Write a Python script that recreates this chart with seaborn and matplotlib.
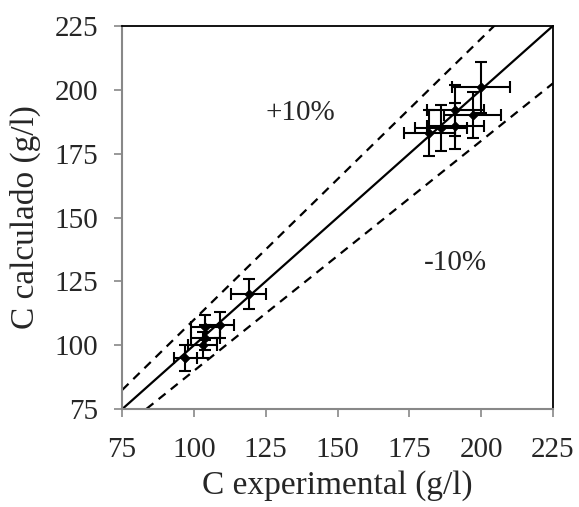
import matplotlib
matplotlib.use("Agg")
import matplotlib.pyplot as plt
import numpy as np
import pandas as pd
import seaborn as sns

# values
c_exp = [97, 103, 104, 104, 109, 119, 182, 186, 191, 191, 197, 200]
c_calc = [95, 100, 103, 107, 108, 120, 183, 185, 186, 192, 190, 201]
err_exp = [4, 5, 5, 5, 5, 6, 9, 9, 10, 10, 10, 10]
err_calc = [5, 5, 5, 5, 5, 6, 9, 9, 9, 10, 9, 10]
ticks = [75, 100, 125, 150, 175, 200, 225]

df = pd.DataFrame({'C experimental': c_exp, 'C calculado': c_calc,
                   'xerr': err_exp, 'yerr': err_calc})

sns.set_style('white')
plt.rcParams['font.family'] = ['Liberation Serif', 'DejaVu Serif']

fig, ax = plt.subplots(figsize=(5.79, 5.07), dpi=100)
fig.subplots_adjust(left=0.211, right=0.955, top=0.949, bottom=0.193)

line = np.array([75, 225])
ax.plot(line, line, color='black', lw=1.6)
ax.plot(line, 1.1 * line, color='black', lw=1.6, ls=(0, (4, 3)))
ax.plot(line, 0.9 * line, color='black', lw=1.6, ls=(0, (4, 3)))

ax.errorbar(df['C experimental'], df['C calculado'], xerr=df['xerr'], yerr=df['yerr'],
            fmt='none', ecolor='black', elinewidth=1.5, capsize=4, capthick=1.5)
sns.scatterplot(data=df, x='C experimental', y='C calculado', marker='D', s=24,
                color='black', edgecolor='black', ax=ax, zorder=5)

ax.text(137, 191, '+10%', fontsize=21, ha='center', va='center')
ax.text(191, 132, '-10%', fontsize=21, ha='center', va='center')

ax.set_xlim(75, 225)
ax.set_ylim(75, 225)
ax.set_xticks(ticks)
ax.set_yticks(ticks)
ax.tick_params(labelsize=21, length=6, width=1.2, color='#888888', direction='out',
               bottom=True, left=True)
ax.tick_params(axis='x', pad=14)
ax.tick_params(axis='y', pad=11)
ax.set_xlabel('C experimental (g/l)', fontsize=24, labelpad=5)
ax.set_ylabel('C calculado (g/l)', fontsize=24, labelpad=10)
for side in ['top', 'right']:
    ax.spines[side].set_color('black')
    ax.spines[side].set_linewidth(1.3)
for side in ['left', 'bottom']:
    ax.spines[side].set_color('#888888')
    ax.spines[side].set_linewidth(1.5)

fig.savefig('out.png', dpi=100)
